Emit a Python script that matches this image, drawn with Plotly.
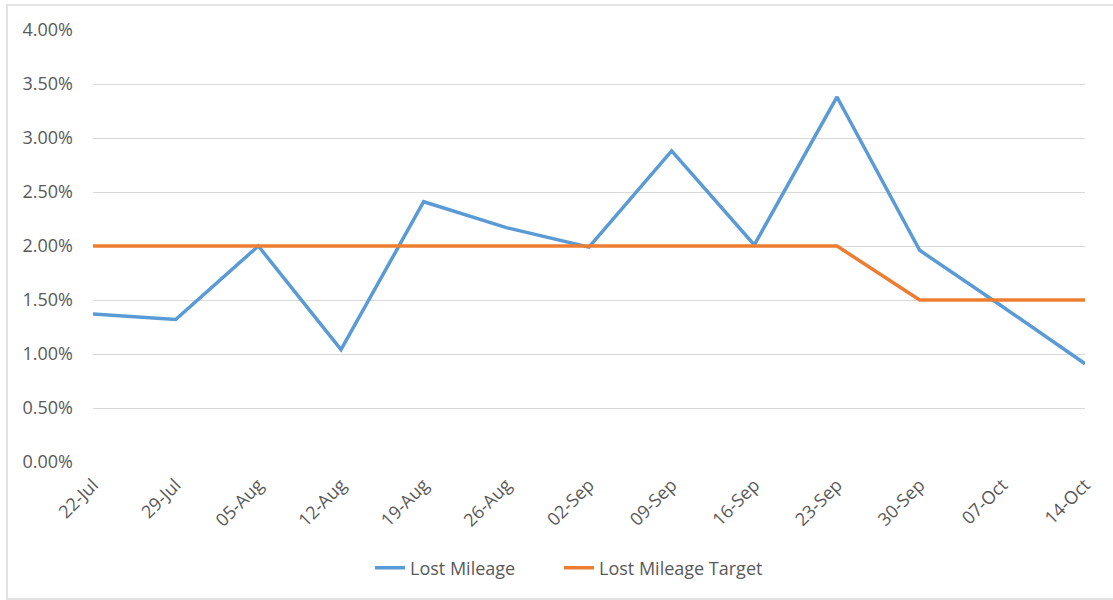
import plotly.graph_objects as go

dates = ["22-Jul", "29-Jul", "05-Aug", "12-Aug", "19-Aug", "26-Aug", "02-Sep",
         "09-Sep", "16-Sep", "23-Sep", "30-Sep", "07-Oct", "14-Oct"]
lost_mileage = [0.0137, 0.0132, 0.0200, 0.0104, 0.0241, 0.0217, 0.0199,
                0.0288, 0.0201, 0.0338, 0.0196, 0.0144, 0.0091]
lost_mileage_target = [0.02, 0.02, 0.02, 0.02, 0.02, 0.02, 0.02,
                       0.02, 0.02, 0.02, 0.015, 0.015, 0.015]
y_ticks = [0, 0.005, 0.01, 0.015, 0.02, 0.025, 0.03, 0.035, 0.04]

FONT = "Open Sans"
GRAY = "#595959"

fig = go.Figure()
fig.add_trace(go.Scatter(x=list(range(len(dates))), y=lost_mileage, mode="lines",
                         name="Lost Mileage", legend="legend",
                         line=dict(color="#5B9BD5", width=3.5)))
fig.add_trace(go.Scatter(x=list(range(len(dates))), y=lost_mileage_target, mode="lines",
                         name="Lost Mileage Target", legend="legend2",
                         line=dict(color="#ED7D31", width=3.5)))

W, H = 1113, 600
L, T = 93, 30
pw, ph = 992, 432
R = W - L - pw
B = H - T - ph

leg_common = dict(orientation="h", xanchor="left", y=(462 - 568) / ph, yanchor="middle",
                  font=dict(size=18, color=GRAY), bgcolor="rgba(0,0,0,0)")

fig.update_layout(
    width=W, height=H,
    margin=dict(l=L, r=R, t=T, b=B),
    paper_bgcolor="white", plot_bgcolor="white",
    font=dict(family=FONT, size=18, color=GRAY),
    showlegend=True,
    legend=dict(x=(370 - L) / pw, **leg_common),
    legend2=dict(x=(559 - L) / pw, **leg_common),
    shapes=[dict(type="rect", xref="paper", yref="paper",
                 x0=(7 - L) / pw, x1=(1115 - L) / pw,
                 y0=(462 - 599) / ph, y1=(462 - 5) / ph,
                 line=dict(color="#d9d9d9", width=1.5), fillcolor="rgba(0,0,0,0)",
                 layer="below")],
)
fig.update_xaxes(
    tickmode="array", tickvals=list(range(len(dates))), ticktext=dates,
    range=[0, len(dates) - 1], tickangle=-45, showgrid=False, zeroline=False,
    showline=False, ticks="", tickfont=dict(size=18, color=GRAY),
    ticklabelstandoff=8,
)
fig.update_yaxes(
    range=[0, 0.04], tickvals=y_ticks, tickformat=".2%", showgrid=True,
    gridcolor="#d9d9d9", gridwidth=1, zeroline=False, showline=False,
    tickfont=dict(size=18, color=GRAY), ticklabelstandoff=19,
)

fig.write_html("out.html", config={"displayModeBar": False},
               post_script="document.body.style.margin='0';document.body.style.overflow='hidden';")
